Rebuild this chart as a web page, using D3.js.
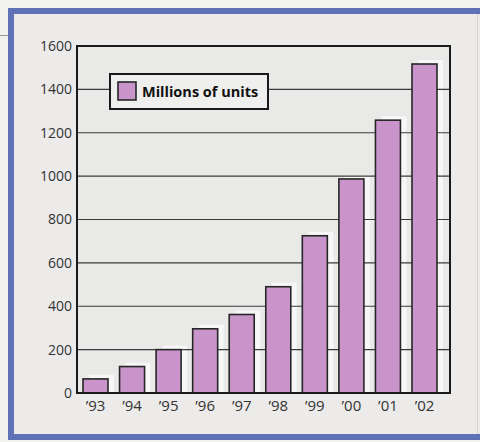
<!DOCTYPE html>
<html><head><meta charset="utf-8">
<script src="https://cdn.jsdelivr.net/npm/d3@7"></script>
<style>html,body{margin:0;padding:0;background:#f2f2f0;}svg{display:block;}</style>
</head><body>
<svg id="chart" width="480" height="442"></svg>
<script>
const years = ["\u201993","\u201994","\u201995","\u201996","\u201997","\u201998","\u201999","\u201900","\u201901","\u201902"];
const units = [65, 122, 200, 296, 362, 490, 725, 987, 1258, 1517];
const yTicks = [0, 200, 400, 600, 800, 1000, 1200, 1400, 1600];
const seriesName = "Millions of units";

(function(){
const svg = d3.select("#chart");
const font = "'Open Sans', sans-serif";

// outer page + frame (left, top, bottom visible)
svg.append("rect").attr("x",0).attr("y",0).attr("width",480).attr("height",442).attr("fill","#f2f2f0");
svg.append("line").attr("x1",0).attr("x2",12).attr("y1",35.5).attr("y2",35.5).attr("stroke","#999").attr("stroke-width",1);
svg.append("rect").attr("x",11).attr("y",11).attr("width",475).attr("height",426).attr("fill","#ecebea");
svg.append("path").attr("d","M480,11 L11,11 L11,437 L480,437")
  .attr("fill","none").attr("stroke","#5f72b8").attr("stroke-width",6);
svg.append("line").attr("x1",477.5).attr("x2",477.5).attr("y1",14).attr("y2",434).attr("stroke","#d4d4d4").attr("stroke-width",1);

const pL = 77, pR = 450, pT = 46, pB = 393;
const x = d3.scaleBand().domain(years).range([83, 437]).paddingInner(0.316).paddingOuter(0);
const y = d3.scaleLinear().domain([0, 1600]).range([pB, pT]);

const g = svg.append("g");
g.append("rect").attr("x",pL).attr("y",pT).attr("width",pR-pL).attr("height",pB-pT).attr("fill","#e9e9e8");

// bar shadows
g.selectAll("rect.shadow").data(units).join("rect").attr("class","shadow")
  .attr("x",(d,i)=>x(years[i])+6).attr("y",d=>y(d)-4)
  .attr("width",x.bandwidth()).attr("height",d=>pB-y(d)+4)
  .attr("fill","#f7f7f7");

// gridlines
g.selectAll("line.grid").data(yTicks.slice(1)).join("line").attr("class","grid")
  .attr("x1",pL).attr("x2",pR).attr("y1",d=>y(d)).attr("y2",d=>y(d))
  .attr("stroke","#3a3a3a").attr("stroke-width",1.2);

// bars
g.selectAll("rect.bar").data(units).join("rect").attr("class","bar")
  .attr("x",(d,i)=>x(years[i])).attr("y",d=>y(d))
  .attr("width",x.bandwidth()).attr("height",d=>pB-y(d))
  .attr("fill","#c994c9").attr("stroke","#262626").attr("stroke-width",1.6);

// frame of plot
g.append("rect").attr("x",pL).attr("y",pT).attr("width",pR-pL).attr("height",pB-pT)
  .attr("fill","none").attr("stroke","#1a1a1a").attr("stroke-width",2);

// axes
const yAxis = d3.axisLeft(y).tickValues(yTicks).tickFormat(d3.format("d")).tickSize(0).tickPadding(4);
const ya = svg.append("g").attr("transform",`translate(${pL-1},0)`).call(yAxis);
ya.select(".domain").remove();
ya.selectAll("text").attr("font-family",font).attr("font-size",14).attr("fill","#333");

const xAxis = d3.axisBottom(x).tickSize(0).tickPadding(7);
const xa = svg.append("g").attr("transform",`translate(0,${pB})`).call(xAxis);
xa.select(".domain").remove();
xa.selectAll("text").attr("font-family",font).attr("font-size",15).attr("fill","#333");

// legend
const lg = svg.append("g");
lg.append("rect").attr("x",110).attr("y",74).attr("width",158).attr("height",35)
  .attr("fill","#efefee").attr("stroke","#1a1a1a").attr("stroke-width",2);
lg.append("rect").attr("x",118).attr("y",82).attr("width",18).attr("height",18)
  .attr("fill","#c994c9").attr("stroke","#262626").attr("stroke-width",1.6);
lg.append("text").attr("x",142).attr("y",96.5).text(seriesName)
  .attr("font-family",font).attr("font-weight","bold").attr("font-size",14.5).attr("fill","#111");
})();
</script>
</body></html>
